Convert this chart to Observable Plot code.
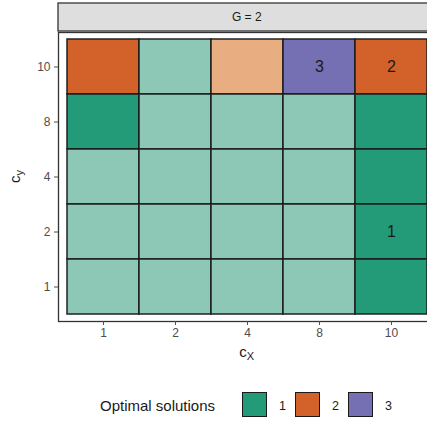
<!DOCTYPE html>
<html>
<head>
<meta charset="utf-8">
<script src="https://cdn.jsdelivr.net/npm/d3@7"></script>
<script src="https://cdn.jsdelivr.net/npm/@observablehq/plot@0.6"></script>
<style>
  html, body { margin: 0; padding: 0; background: #fff; overflow: hidden; width: 427px; height: 421px; }
  body { font-family: "Liberation Sans", Arial, sans-serif; position: relative; }
  #chart { position: absolute; left: 0; top: 0; width: 442px; }
  #chart svg { max-width: none !important; }
  #legend { position: absolute; left: 0; top: 0; width: 427px; height: 421px; pointer-events: none; }
  .lt { position: absolute; font-size: 15px; color: #1a1a1a; line-height: 1; }
  .lk { position: absolute; width: 23px; height: 23px; border: 1.5px solid #1a1a1a; }
  .ll { position: absolute; font-size: 12.5px; color: #1a1a1a; line-height: 1; }
</style>
</head>
<body>
<div id="chart"></div>
<div id="legend"></div>
<script>
const xCats = ["1", "2", "4", "8", "10"];
const yCats = ["10", "8", "4", "2", "1"];
// solution index per row (y from top: 10, 8, 4, 2, 1), per column x
const solution = [
  [2, 1, 2, 3, 2],
  [1, 1, 1, 1, 1],
  [1, 1, 1, 1, 1],
  [1, 1, 1, 1, 1],
  [1, 1, 1, 1, 1]
];
// 1 = optimal (full colour), 0 = not optimal (light)
const optimal = [
  [1, 0, 0, 1, 1],
  [1, 0, 0, 0, 1],
  [0, 0, 0, 0, 1],
  [0, 0, 0, 0, 1],
  [0, 0, 0, 0, 1]
];
const labels = [
  ["", "", "", "3", "2"],
  ["", "", "", "", ""],
  ["", "", "", "", ""],
  ["", "", "", "", "1"],
  ["", "", "", "", ""]
];
const legendCats = ["1", "2", "3"];
const fullColors = ["#239B78", "#D3622A", "#7570B3"];
const lightColors = ["#8DC8B6", "#E8AE82", "#BAB7D9"];

const cells = [];
yCats.forEach((y, i) => xCats.forEach((x, j) => {
  cells.push({x, y, sol: solution[i][j], opt: optimal[i][j], label: labels[i][j]});
}));

const W = 442, H = 370, mL = 58, mR = 6.5, mT = 32, mB = 49;

const plot = Plot.plot({
  width: W, height: H,
  marginLeft: mL, marginRight: mR, marginTop: mT, marginBottom: mB,
  style: {fontFamily: "Liberation Sans, Arial, sans-serif", background: "transparent", maxWidth: "none"},
  x: {domain: xCats, inset: 8, padding: 0, label: null},
  y: {domain: yCats, inset: 5, padding: 0, label: null},
  marks: [
    Plot.cell(cells, {
      x: "x", y: "y",
      fill: d => (d.opt ? fullColors : lightColors)[d.sol - 1],
      stroke: "#1a1a1a", strokeWidth: 1.6, strokeOpacity: 0.9
    }),
    Plot.text(cells, {x: "x", y: "y", text: "label", fontSize: 16, fill: "#1a1a1a"}),
    Plot.frame({stroke: "#333333", strokeWidth: 1.3}),
    Plot.axisX({tickSize: 4, tickPadding: 3, fontSize: 12, color: "#4D4D4D", label: null}),
    Plot.axisY({tickSize: 4, tickPadding: 4, fontSize: 12, color: "#4D4D4D", label: null})
  ]
});
document.getElementById("chart").appendChild(plot);

const svg = d3.select(plot);
const panelW = W - mL - mR;
const cx = mL + panelW / 2;
// facet strip
svg.append("rect")
  .attr("x", mL).attr("y", 3).attr("width", panelW).attr("height", mT - 4)
  .attr("fill", "#DEDEDE").attr("stroke", "#333333").attr("stroke-width", 1.3);
svg.append("text")
  .attr("x", cx).attr("y", 17.5).attr("text-anchor", "middle").attr("dominant-baseline", "middle")
  .attr("font-size", 12).attr("fill", "#1a1a1a").text("G = 2");

// axis titles with subscripts
const xt = svg.append("text")
  .attr("x", cx).attr("y", 357).attr("text-anchor", "middle")
  .attr("font-size", 15).attr("fill", "#1a1a1a");
xt.append("tspan").text("c");
xt.append("tspan").attr("font-size", 11).attr("dy", 3).text("X");

const yt = svg.append("text")
  .attr("transform", `translate(20,${(mT + H - mB) / 2}) rotate(-90)`)
  .attr("text-anchor", "middle")
  .attr("font-size", 15).attr("fill", "#1a1a1a");
yt.append("tspan").text("c");
yt.append("tspan").attr("font-size", 11).attr("dy", 3).text("y");

// legend
const leg = document.getElementById("legend");
const t = document.createElement("div");
t.className = "lt"; t.textContent = "Optimal solutions";
t.style.left = "100px"; t.style.top = "398px";
leg.appendChild(t);
legendCats.forEach((c, i) => {
  const k = document.createElement("div");
  k.className = "lk";
  k.style.left = (242 + i * 53) + "px"; k.style.top = "392px";
  k.style.background = fullColors[i];
  leg.appendChild(k);
  const l = document.createElement("div");
  l.className = "ll"; l.textContent = c;
  l.style.left = (279 + i * 53) + "px"; l.style.top = "400px";
  leg.appendChild(l);
});
</script>
</body>
</html>
